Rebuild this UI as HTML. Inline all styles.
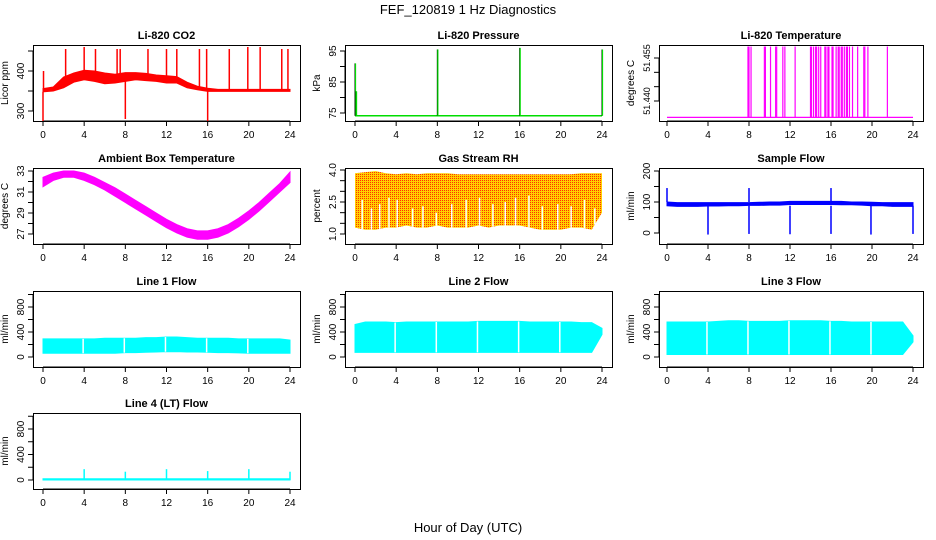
<!DOCTYPE html>
<html><head><meta charset="utf-8"><style>
body{margin:0;background:#fff}
svg{display:block;font-family:"Liberation Sans",sans-serif}
</style></head><body>
<svg id="chart" width="936" height="540" viewBox="0 0 936 540">
<defs><pattern id="rhpat" width="2" height="2" patternUnits="userSpaceOnUse"><rect width="2" height="2" fill="#ffd000"/><rect width="1" height="1" fill="#ff3000"/></pattern></defs>
<text x="468" y="14" text-anchor="middle" font-size="13">FEF_120819  1 Hz Diagnostics</text>
<text x="468" y="532" text-anchor="middle" font-size="13">Hour of Day (UTC)</text>
</svg>
<script>
const hours=[0,1,2,3,4,5,6,7,8,9,10,11,12,13,14,15,16,17,18,19,20,21,22,23,24];
const xTicks=[0,4,8,12,16,20,24];
// CO2
const co2Lo=[348,350,358,372,378,374,368,370,374,378,376,374,370,370,358,353,349,349,349,349,349,349,349,349,349];
const co2Hi=[356,360,385,395,402,400,395,392,396,396,394,390,388,386,372,362,357,354,354,354,354,354,354,354,354];
const co2SpikeHours=[0,0.05,2.2,4,5.1,7.2,7.5,8,10.2,12,13,15.2,15.9,16,18.1,19.9,21.1,23.2,23.8];
const co2SpikeVals=[275,400,455,460,455,455,455,280,455,455,455,455,455,275,455,460,460,455,455];
// Pressure
const presBase=[74.1];
const presSpikeHours=[0,0.1,8,16,24];
const presSpikeVals=[91,82,95.5,96,95.5];
// Temperature
const tempBase=[51.4343];
const tempSpikeHours=[7.9,8.0,8.2,9.5,9.6,10.1,10.6,10.7,11.3,11.5,12.5,14,14.1,14.3,14.5,14.6,14.8,15,15.4,15.5,15.7,15.8,16.1,16.2,16.5,16.7,16.8,17,17.1,17.3,17.5,17.6,17.8,18.1,18.6,19.2,19.3,19.6,21.5];
const tempSpikeTop=[51.459];
// Ambient
const ambLo=[31.5,32.1,32.4,32.4,32.1,31.7,31.2,30.6,30.0,29.4,28.8,28.2,27.6,27.1,26.7,26.5,26.5,26.7,27.1,27.7,28.4,29.2,30.1,31.0,31.9];
const ambHi=[32.4,32.8,33.0,33.0,32.8,32.4,31.9,31.4,30.8,30.2,29.6,29.0,28.4,27.9,27.5,27.3,27.3,27.5,27.9,28.5,29.2,30.0,30.9,31.8,32.9];
// RH
const rhLo=[1.3,1.2,1.2,1.3,1.3,1.4,1.3,1.3,1.4,1.3,1.3,1.3,1.4,1.3,1.4,1.4,1.4,1.3,1.2,1.2,1.2,1.3,1.3,1.2,2.0];
const rhHi=[3.85,3.9,3.95,3.85,3.8,3.85,3.8,3.85,3.85,3.85,3.8,3.8,3.8,3.8,3.8,3.8,3.8,3.8,3.8,3.8,3.8,3.8,3.85,3.85,3.85];
const rhGapHours=[0.7,1.6,2.4,3.3,4.1,5.6,6.6,7.9,9.4,10.8,12.1,13.4,14.6,15.6,16.9,18.2,19.7,21.0,22.3,23.3];
const rhGapVals=[2.6,2.2,2.4,2.7,2.6,2.2,2.3,2.0,2.4,2.6,2.7,2.4,2.5,2.7,2.8,2.3,2.4,2.3,2.6,2.2];
// Sample flow
const flowLo=[88,86,86,86,87,87,88,88,89,89,90,90,92,92,92,92,92,91,91,90,88,88,86,86,86];
const flowHi=[100,98,98,98,98,98,98,98,98,99,100,100,102,102,102,102,102,102,100,100,99,98,98,98,98];
const flowSpikeHours=[0,8,16];
const flowSpikeVals=[145,145,145];
const flowDipHours=[4,8,12,16,19.9,24];
const flowDipVals=[-5,-3,-4,-3,-5,-3];
// Line flows
const l1Lo=[60,60,60,60,60,60,60,60,70,70,75,80,85,85,80,80,75,70,70,65,60,60,60,60,60];
const l1Hi=[290,290,290,290,290,290,300,300,300,300,310,310,320,320,310,300,300,300,300,290,290,290,290,290,270];
const l2Lo=[75,75,75,75,75,75,75,75,75,75,75,75,75,75,75,75,75,75,75,75,75,75,75,75,360];
const l2Hi=[520,560,560,560,550,560,560,560,560,560,560,560,570,570,570,570,570,560,560,560,560,560,550,550,460];
const l3Lo=[40,40,40,40,40,40,40,40,40,40,40,40,40,40,40,40,40,40,40,40,40,40,40,40,240];
const l3Hi=[560,560,560,560,560,570,580,580,570,570,570,570,580,580,580,580,570,570,560,560,560,560,560,560,340];
const lineGapHours=[3.9,7.9,11.9,15.9,19.9];
const l4Lo=[0,0,0,0,0,0,0,0,0,0,0,0,0,0,0,0,0,0,0,0,0,0,0,0,0];
const l4Hi=[20,20,20,20,20,20,20,20,20,20,20,20,20,20,20,20,20,20,20,20,20,20,20,20,20];
const l4SpikeHours=[4,8,12,16,20,24];
const l4SpikeVals=[170,130,170,140,170,130];

const NS="http://www.w3.org/2000/svg";
const svg=document.getElementById('chart');
function mk(tag,attrs,parent){const e=document.createElementNS(NS,tag);for(const k in attrs)e.setAttribute(k,attrs[k]);(parent||svg).appendChild(e);return e;}
const cols=[{bx0:33,bx1:300,dx0:43,dx1:290},{bx0:345,bx1:612,dx0:355,dx1:602},{bx0:659,bx1:923,dx0:667,dx1:913}];
const rows=[{t:45,b:121},{t:168,b:244},{t:291,b:367},{t:413,b:489}];
function panel(name,title,ylab,r,c,v0,p0,v1,p1,ticks,labels,tfs){
  const C=cols[c],R=rows[r];
  const g=mk('g',{});
  
  
  const P={g,C,R,x:h=>C.dx0+h/24*(C.dx1-C.dx0),y:v=>p0+(v-v0)/(v1-v0)*(p1-p0)};
  const t=mk('text',{x:(C.bx0+C.bx1)/2,y:R.t-6,'text-anchor':'middle','font-size':11,'font-weight':'bold'},g);t.textContent=title;
  
  
  const yl=mk('text',{transform:`translate(${C.bx0-25},${(R.t+R.b)/2}) rotate(-90)`,'text-anchor':'middle','font-size':10},g);yl.textContent=ylab;
  
  
  mk('line',{x1:P.x(0),x2:P.x(24),y1:R.b,y2:R.b,stroke:'#000'},g);
  xTicks.forEach(h=>{const X=P.x(h);mk('line',{x1:X,x2:X,y1:R.b,y2:R.b+5,stroke:'#000'},g);
    const tt=mk('text',{x:X,y:R.b+17,'text-anchor':'middle','font-size':10},g);tt.textContent=h;
    
    });
  ticks.forEach((v,i)=>{const Y=P.y(v);mk('line',{x1:C.bx0-5,x2:C.bx0,y1:Y,y2:Y,stroke:'#000'},g);
    if(labels[i]!==''){const tt=mk('text',{transform:`translate(${C.bx0-9},${Y}) rotate(-90)`,'text-anchor':'middle','font-size':tfs||10},g);tt.textContent=labels[i];
    
    }});
  mk('line',{x1:C.bx0,x2:C.bx0,y1:P.y(ticks[0]),y2:P.y(ticks[ticks.length-1]),stroke:'#000'},g);
  P.plot=mk('g',{},g);
  setTimeout(()=>{mk('rect',{x:C.bx0+0.5,y:R.t+0.5,width:C.bx1-C.bx0,height:R.b-R.t,fill:'none',stroke:'#000'},g);},0);
  return P;
}
function band(P,lo,hi,fill,name){
  let pts=hours.map((h,i)=>P.x(h)+','+P.y(hi[i]));
  pts=pts.concat(hours.slice().reverse().map((h,j)=>{const i=hours.length-1-j;return P.x(h)+','+P.y(lo[i]);}));
  const e=mk('polygon',{points:pts.join(' '),fill:fill,stroke:fill==='url(#rhpat)'?'none':fill,'stroke-width':1},P.plot);
  
  
}
function vline(P,h,a,b,col,w,name){const e=mk('line',{x1:P.x(h),x2:P.x(h),y1:P.y(a),y2:P.y(b),stroke:col,'stroke-width':w||1.5},P.plot);
  
  }
function interp(arr,h){const i=Math.min(23,Math.floor(h));const f=h-i;return arr[i]*(1-f)+arr[i+1]*f;}

let P=panel('co2-panel','Li-820 CO2','Licor ppm',0,0,300,111,400,71,[300,350,400,450],['300','','400','']);
band(P,co2Lo,co2Hi,'#ff0000','co2-band');
co2SpikeHours.forEach((h,i)=>vline(P,h,interp(co2Lo,h),co2SpikeVals[i],'#ff0000',1.5,'co2-spike'));

P=panel('pressure-panel','Li-820 Pressure','kPa',0,1,75,113,95,51,[75,80,85,90,95],['75','','85','','95']);
{const e=mk('line',{x1:P.x(0),x2:P.x(24),y1:P.y(presBase[0]),y2:P.y(presBase[0]),stroke:'#00dd00','stroke-width':1.5},P.plot);

}
presSpikeHours.forEach((h,i)=>{vline(P,h,presBase[0],presSpikeVals[i],'#000',1,'pressure-spike-dotted');
  vline(P,h+0.05,presBase[0],presSpikeVals[i],'#00dd00',1.2,'pressure-spike');});

P=panel('temperature-panel','Li-820 Temperature','degrees C',0,2,51.440,101,51.455,58,[51.440,51.445,51.450,51.455],['51.440','','','51.455'],9);
{const e=mk('line',{x1:P.x(0),x2:P.x(24),y1:P.y(tempBase[0]),y2:P.y(tempBase[0]),stroke:'#ff00ff','stroke-width':1.2},P.plot);

}
tempSpikeHours.forEach(h=>vline(P,h,tempBase[0],tempSpikeTop[0],'#ff00ff',1.2,'temperature-spike'));

P=panel('ambient-panel','Ambient Box Temperature','degrees C',1,0,27,234,33,171,[27,28,29,30,31,32,33],['27','','29','','31','','33']);
band(P,ambLo,ambHi,'#ff00ff','ambient-band');

P=panel('rh-panel','Gas Stream RH','percent',1,1,1,234,4,170,[1,1.5,2,2.5,3,3.5,4],['1.0','','','2.5','','','4.0']);
band(P,rhLo,rhHi,'url(#rhpat)','rh-band');
rhGapHours.forEach((h,i)=>vline(P,h,interp(rhLo,h),rhGapVals[i],'#fff',1.5,'rh-gap'));

P=panel('sample-flow-panel','Sample Flow','ml/min',1,2,0,233,200,171,[0,50,100,150,200],['0','','100','','200']);
band(P,flowLo,flowHi,'#0000ff','flow-band');
flowSpikeHours.forEach((h,i)=>vline(P,h,100,flowSpikeVals[i],'#0000ff',1.5,'flow-spike'));
flowDipHours.forEach((h,i)=>vline(P,h,88,flowDipVals[i],'#0000ff',1.5,'flow-dip'));

const lt=[0,200,400,600,800,1000],ll=['0','','400','','800',''];
[['line1-panel','Line 1 Flow',0,l1Lo,l1Hi],['line2-panel','Line 2 Flow',1,l2Lo,l2Hi],['line3-panel','Line 3 Flow',2,l3Lo,l3Hi]].forEach(d=>{
  const Q=panel(d[0],d[1],'ml/min',2,d[2],0,357,800,307,lt,ll);
  band(Q,d[3],d[4],'#00ffff','line-flow-band');
  lineGapHours.forEach(h=>vline(Q,h,interp(d[3],h),interp(d[4],h),'#fff',1.5,'line-flow-gap'));
});
P=panel('line4-panel','Line 4 (LT) Flow','ml/min',3,0,0,480,800,429,lt,ll);
band(P,l4Lo,l4Hi,'#00ffff','line4-band');
l4SpikeHours.forEach((h,i)=>vline(P,h,0,l4SpikeVals[i],'#00ffff',1.5,'line4-spike'));
</script>
</body></html>
